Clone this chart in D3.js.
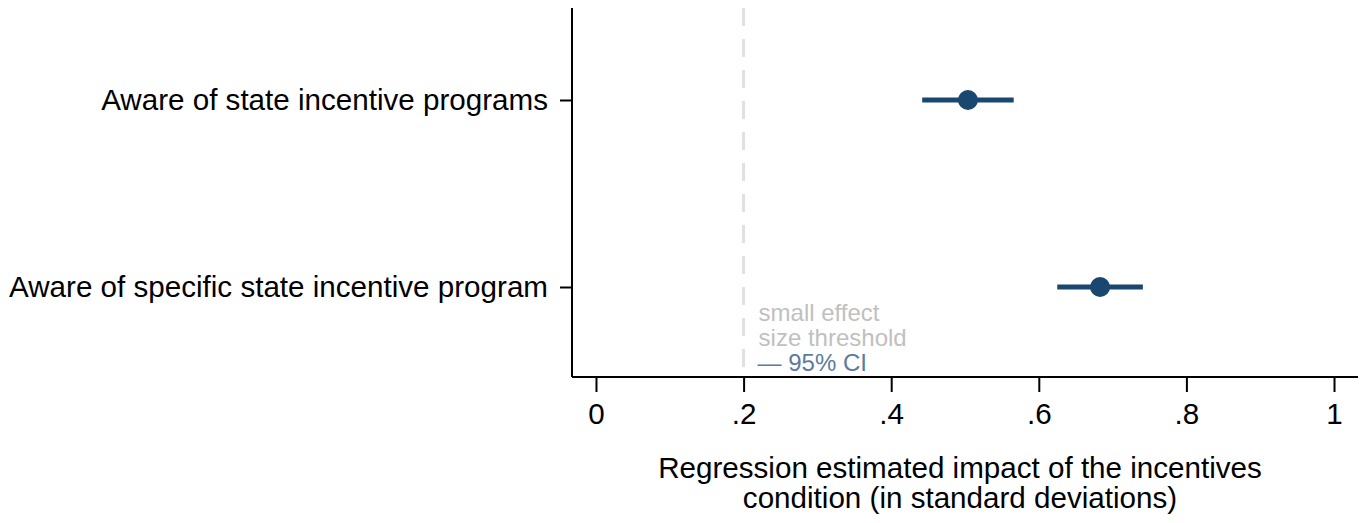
<!DOCTYPE html>
<html>
<head>
<meta charset="utf-8">
<script src="https://cdn.jsdelivr.net/npm/d3@7"></script>
<style>
  body { margin: 0; background: #fff; }
  svg text { font-family: "Liberation Sans", Arial, Helvetica, sans-serif; }
</style>
</head>
<body>
<div id="chart"></div>
<script>
var categories = ["Aware of state incentive programs", "Aware of specific state incentive program"];
var estimates = [0.504, 0.683];
var ciLow = [0.442, 0.625];
var ciHigh = [0.566, 0.741];
var xTicks = [0, 0.2, 0.4, 0.6, 0.8, 1];
var xTickLabels = ["0", ".2", ".4", ".6", ".8", "1"];
var threshold = 0.2;
var noteLines = ["small effect", "size threshold"];
var ciLabel = "\u2014 95% CI";
var xTitle = ["Regression estimated impact of the incentives", "condition (in standard deviations)"];

var width = 1370, height = 523;
var navy = "#1a476f";

var svg = d3.select("#chart").append("svg")
  .attr("width", width)
  .attr("height", height);

// plot region
var plotLeft = 572, plotRight = 1358, plotTop = 8, plotBottom = 377;

var x = d3.scaleLinear().domain([-0.0325, 1.0325]).range([plotLeft, plotRight]);
var y = d3.scalePoint().domain(categories).range([100, 287]);

// threshold dashed line
svg.append("line")
  .attr("x1", x(threshold)).attr("x2", x(threshold))
  .attr("y1", plotTop).attr("y2", plotBottom)
  .style("stroke", "#e0e0e0")
  .style("stroke-width", 3)
  .style("stroke-dasharray", "18,13");

// note text
var note = svg.append("g");
note.selectAll("text.note")
  .data(noteLines)
  .enter()
  .append("text")
  .attr("class", "note")
  .attr("x", x(threshold) + 15)
  .attr("y", function (d, i) { return 321 + i * 25; })
  .style("font-size", "24px")
  .style("fill", "#c0c0c0")
  .text(function (d) { return d; });
note.append("text")
  .attr("x", x(threshold) + 14)
  .attr("y", 371)
  .style("font-size", "24px")
  .style("fill", "#5b7c9e")
  .text(ciLabel);

// x axis
var xAxis = d3.axisBottom(x)
  .tickValues(xTicks)
  .tickFormat(function (d, i) { return xTickLabels[i]; })
  .tickSize(15)
  .tickPadding(11)
  .tickSizeOuter(0);
var gx = svg.append("g")
  .attr("transform", "translate(0," + plotBottom + ")")
  .call(xAxis);
gx.select(".domain").attr("d", "M" + plotLeft + ",0H" + plotRight).style("stroke", "#000").style("stroke-width", 2);
gx.selectAll(".tick line").style("stroke", "#000").style("stroke-width", 2);
gx.selectAll(".tick text").style("font-size", "29.6px").style("fill", "#000").attr("font-family", null);

// y axis
var yAxis = d3.axisLeft(y)
  .tickSize(12)
  .tickPadding(12)
  .tickSizeOuter(0);
var gy = svg.append("g")
  .attr("transform", "translate(" + plotLeft + ",0)")
  .call(yAxis);
gy.select(".domain").attr("d", "M0," + plotTop + "V" + plotBottom).style("stroke", "#000").style("stroke-width", 2);
gy.selectAll(".tick line").style("stroke", "#000").style("stroke-width", 2);
gy.selectAll(".tick text").style("font-size", "29.6px").style("fill", "#000").attr("font-family", null);

// x title
svg.append("text")
  .attr("text-anchor", "middle")
  .attr("x", 960)
  .attr("y", 478)
  .style("font-size", "29.6px")
  .style("fill", "#000")
  .selectAll("tspan")
  .data(xTitle)
  .enter()
  .append("tspan")
  .attr("x", 960)
  .attr("dy", function (d, i) { return i === 0 ? 0 : 30; })
  .text(function (d) { return d; });

// CI lines and points
var data = categories.map(function (c, i) {
  return { cat: c, est: estimates[i], lo: ciLow[i], hi: ciHigh[i] };
});

svg.selectAll("line.ci")
  .data(data)
  .enter()
  .append("line")
  .attr("class", "ci")
  .attr("x1", function (d) { return x(d.lo); })
  .attr("x2", function (d) { return x(d.hi); })
  .attr("y1", function (d) { return y(d.cat); })
  .attr("y2", function (d) { return y(d.cat); })
  .style("stroke", navy)
  .style("stroke-width", 5);

svg.selectAll("circle.pt")
  .data(data)
  .enter()
  .append("circle")
  .attr("class", "pt")
  .attr("cx", function (d) { return x(d.est); })
  .attr("cy", function (d) { return y(d.cat); })
  .attr("r", 10)
  .style("fill", navy);
</script>
</body>
</html>
